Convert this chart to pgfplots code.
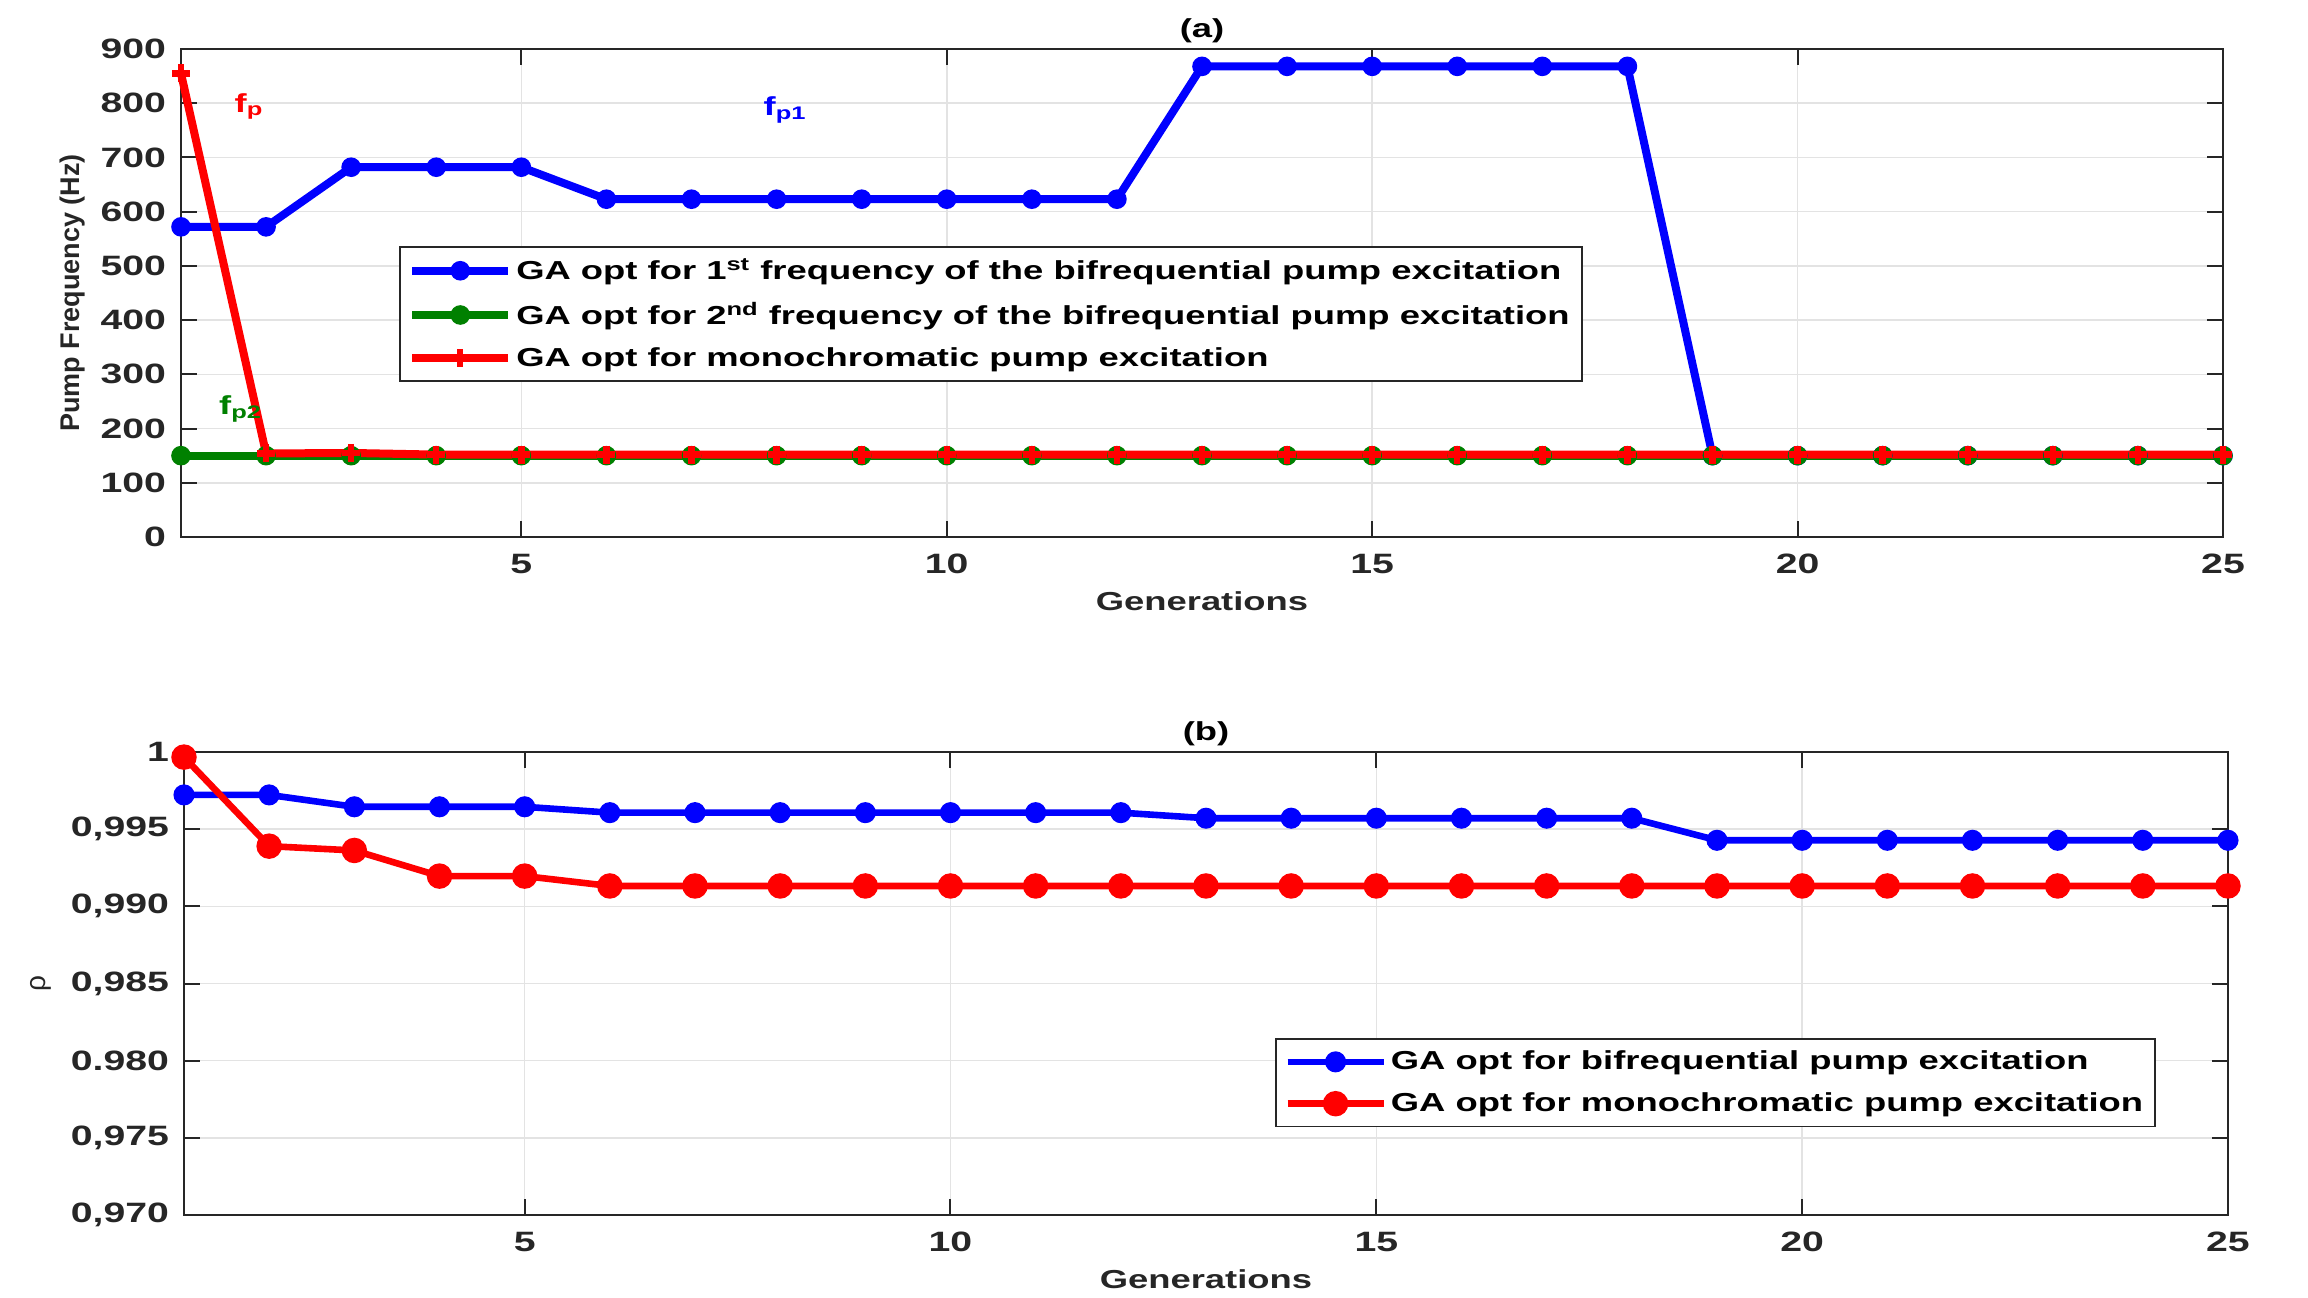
\documentclass[border=0pt]{standalone}
\usepackage{fontspec}
\setmainfont{Liberation Sans}[FakeStretch=1.4]
\newfontfamily\plainsans{Liberation Sans}
\usepackage{pgfplots}
\pgfplotsset{compat=1.18}
\definecolor{axisgray}{HTML}{262626}
\definecolor{gridgray}{HTML}{E3E3E3}
\definecolor{mgreen}{rgb}{0,0.5,0}
\newcommand{\tf}{\fontsize{13}{15}\selectfont\bfseries}
\newcommand{\tkf}{\fontsize{14}{16}\selectfont\bfseries}

\pgfplotstableread{
x y
1 572
2 572
3 682
4 682
5 682
6 623
7 623
8 623
9 623
10 623
11 623
12 623
13 868
14 868
15 868
16 868
17 868
18 868
19 150
20 150
21 150
22 150
23 150
24 150
25 150
}\fpone
\pgfplotstableread{
x y
1 150
2 150
3 150
4 150
5 150
6 150
7 150
8 150
9 150
10 150
11 150
12 150
13 150
14 150
15 150
16 150
17 150
18 150
19 150
20 150
21 150
22 150
23 150
24 150
25 150
}\fptwo
\pgfplotstableread{
x y
1 855
2 154
3 155
4 152
5 152
6 152
7 152
8 152
9 152
10 152
11 152
12 152
13 152
14 152
15 152
16 152
17 152
18 152
19 152
20 152
21 152
22 152
23 152
24 152
25 152
}\fpmono
\pgfplotstableread{
x y
1 0.99722
2 0.99722
3 0.99645
4 0.99645
5 0.99645
6 0.99607
7 0.99607
8 0.99607
9 0.99607
10 0.99607
11 0.99607
12 0.99607
13 0.99571
14 0.99571
15 0.99571
16 0.99571
17 0.99571
18 0.99571
19 0.99428
20 0.99428
21 0.99428
22 0.99428
23 0.99428
24 0.99428
25 0.99428
}\rhobi
\pgfplotstableread{
x y
1 0.99967
2 0.99390
3 0.99362
4 0.99196
5 0.99196
6 0.99132
7 0.99132
8 0.99132
9 0.99132
10 0.99132
11 0.99132
12 0.99132
13 0.99132
14 0.99132
15 0.99132
16 0.99132
17 0.99132
18 0.99132
19 0.99132
20 0.99132
21 0.99132
22 0.99132
23 0.99132
24 0.99132
25 0.99132
}\rhomono

\pgfplotsset{
  common/.style={
    scale only axis, clip=false,
    xmin=1, xmax=25, xtick={5,10,15,20,25},
    grid=major, major grid style={color=gridgray, line width=0.8pt},
    axis line style={color=axisgray, line width=1pt},
    tick style={color=axisgray, line width=1pt},
    tick align=inside, major tick length=8pt,
    /pgf/number format/assume math mode=true,
    ticklabel style={font=\tkf, text=axisgray},
    xticklabel style={yshift=-5pt},
    yticklabel style={xshift=-4pt},
    xlabel style={font=\tf, text=axisgray, yshift=-2pt},
    title style={font=\tf, text=black, yshift=-6.5pt},
    legend cell align=left,
    legend style={font=\tf, text=black, draw=axisgray, line width=0.8pt, row sep=6pt, inner sep=4pt},
    legend image code/.code={\draw[mark repeat=2,mark phase=2,##1] plot coordinates {(0pt,0pt) (24pt,0pt) (48pt,0pt)};},
  }
}

\begin{document}
\begin{tikzpicture}
\useasboundingbox (0,0) rectangle (1154pt,648.5pt);
\begin{axis}[common,
  at={(90.5pt,380pt)}, anchor=south west, width=1021pt, height=244pt,
  ymin=0, ymax=900, ytick={0,100,...,900},
  title={(a)}, xlabel={Generations}, ylabel={Pump Frequency (Hz)},
  ylabel style={font=\plainsans\fontsize{13.5}{15}\selectfont\bfseries, text=axisgray, yshift=1pt},
  legend style={at={(rel axis cs:0.107,0.596)}, anchor=north west},
]
\addplot[blue, line width=4pt, mark=*, mark size=4.4pt, mark options={line width=1pt}] table[x=x,y=y] {\fpone};
\addlegendentry{GA opt for 1\textsuperscript{st} frequency of the bifrequential pump excitation}
\addplot[mgreen, line width=4pt, mark=*, mark size=4.4pt, mark options={line width=1pt}] table[x=x,y=y] {\fptwo};
\addlegendentry{GA opt for 2\textsuperscript{nd} frequency of the bifrequential pump excitation}
\addplot[red, line width=4pt, mark=+, mark size=4.5pt, mark options={line width=3.2pt}] table[x=x,y=y] {\fpmono};
\addlegendentry{GA opt for monochromatic pump excitation}
\node[text=red, font=\tf] at (axis cs:1.8,794) {f\textsubscript{p}};
\node[text=blue, font=\tf] at (axis cs:8.1,787) {f\textsubscript{p1}};
\node[text=mgreen, font=\tf] at (axis cs:1.7,236) {f\textsubscript{p2}};
\end{axis}
\begin{axis}[common,
  at={(92pt,41pt)}, anchor=south west, width=1022pt, height=231.5pt,
  ymin=0.970, ymax=1, ytick={0.970,0.975,0.980,0.985,0.990,0.995,1},
  yticklabels={{0,970},{0,975},{0.980},{0,985},{0,990},{0,995},{1}},
  title={(b)}, xlabel={Generations}, ylabel={ρ},
  ylabel style={font=\plainsans\fontsize{14}{16}\selectfont, text=axisgray, yshift=3pt},
  legend style={at={(rel axis cs:0.534,0.382)}, anchor=north west},
]
\addplot[blue, line width=3.3pt, mark=*, mark size=3.6pt] table[x=x,y=y] {\rhobi};
\addlegendentry{GA opt for bifrequential pump excitation}
\addplot[red, line width=3.3pt, mark=*, mark size=4.7pt] table[x=x,y=y] {\rhomono};
\addlegendentry{GA opt for monochromatic pump excitation}
\end{axis}
\end{tikzpicture}
\end{document}
